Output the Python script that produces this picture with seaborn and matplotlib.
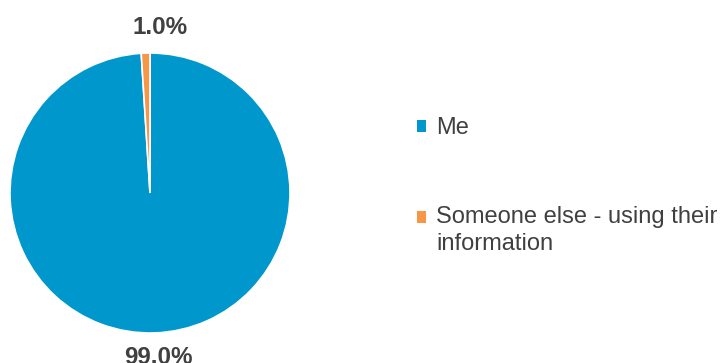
import numpy as np
import matplotlib
matplotlib.use("Agg")
import matplotlib.pyplot as plt
import seaborn as sns
from matplotlib.patches import Patch

categories = ["Me", "Someone else - using their\ninformation"]
shares = [99.0, 1.0]
pct_labels = ["99.0%", "1.0%"]
colors = ["#0098CC", "#F79646"]
text_color = "#404040"

sns.set_theme(style="white")
plt.rcParams["font.family"] = ["Liberation Sans", "DejaVu Sans"]

fig = plt.figure(figsize=(7.21, 3.63), dpi=100)
ax = fig.add_axes([10 / 721, 30 / 363, 280 / 721, 280 / 363])

wedges, _ = ax.pie(
    shares,
    colors=colors,
    startangle=90,
    counterclock=False,
    radius=1.0,
    wedgeprops=dict(edgecolor="white", linewidth=1.2),
)
ax.set_xlim(-1, 1)
ax.set_ylim(-1, 1)
ax.set_aspect("equal")
ax.axis("off")

# value labels just outside each slice, at the slice's middle angle
label_radius = [1.175, 1.18]
label_dx = [0.021, 0.107]
for w, txt, r, dx in zip(wedges, pct_labels, label_radius, label_dx):
    mid = np.deg2rad((w.theta1 + w.theta2) / 2)
    ax.text(r * np.cos(mid) + dx, r * np.sin(mid), txt,
            ha="center", va="center", fontsize=17.4, fontweight="bold",
            color=text_color, clip_on=False)

handles = [Patch(facecolor=c, edgecolor="none") for c in colors]
leg = fig.legend(
    handles, categories,
    loc="upper left", bbox_to_anchor=(417 / 721, 1 - 117 / 363),
    frameon=False, fontsize=17, labelcolor=text_color,
    handlelength=0.4, handleheight=0.4, handletextpad=0.4,
    labelspacing=2.85, borderpad=0, borderaxespad=0,
)
line_spacing = 1.25
for t in leg.get_texts():
    t.set_linespacing(line_spacing)

# keep each square marker level with the first line of its label
for h, lab in zip(leg.legend_handles, categories):
    n_extra = lab.count("\n")
    if n_extra:
        h.set_y(h.get_y() + n_extra * 0.5 * 27 * 72 / 100)

fig.savefig("out.png", dpi=100)
